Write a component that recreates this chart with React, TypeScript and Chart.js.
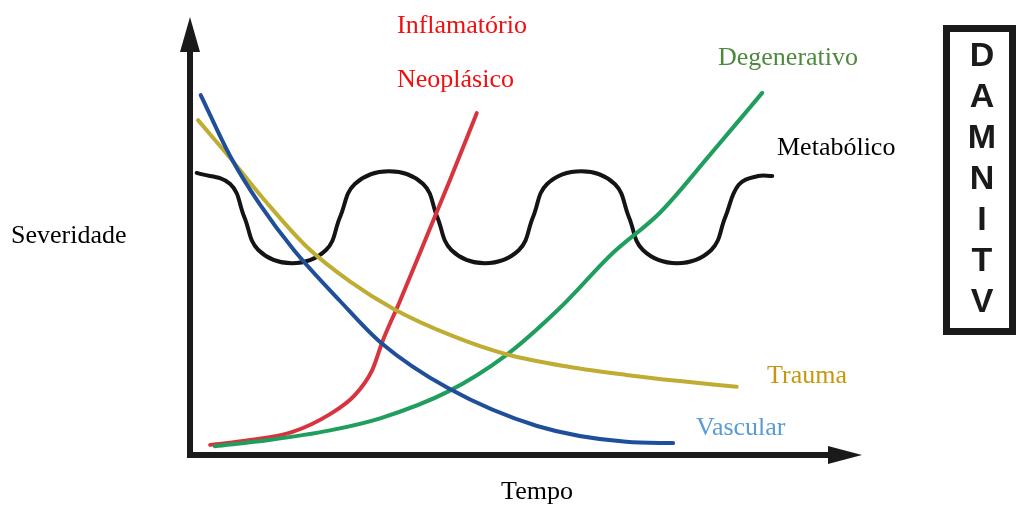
import React, { useEffect, useRef } from "react";
import { Chart, registerables } from "chart.js";

Chart.register(...registerables);

// Time (0–100) and severity (0–100) readings for each aetiology curve
const vascularTime = [1.6, 6.0, 10.4, 15.5, 22.4, 28.5, 38.5, 51.8, 65.1, 72.1];
const vascularSeverity = [81.8, 67.9, 57.0, 46.6, 35.0, 25.5, 15.2, 6.6, 3.0, 2.7];

const traumaTime = [1.2, 6.0, 11.2, 17.5, 23.9, 30.4, 38.8, 47.2, 56.7, 65.1, 73.1, 81.6];
const traumaSeverity = [76.1, 67.5, 57.8, 47.2, 39.4, 33.2, 27.3, 22.9, 20.0, 18.2, 16.8, 15.5];

const neoplasicoTime = [3.0, 9.0, 15.2, 20.9, 24.6, 27.2, 28.8, 31.2, 34.5, 38.8, 42.8];
const neoplasicoSeverity = [2.3, 3.4, 5.2, 9.3, 13.6, 19.3, 26.1, 34.5, 46.6, 62.5, 77.7];

const degenerativoTime = [3.7, 11.8, 20.9, 28.5, 38.5, 47.2, 55.2, 63.1, 70.1, 77.6, 85.4];
const degenerativoSeverity = [2.0, 3.4, 5.6, 8.4, 14.4, 22.7, 33.4, 45.9, 55.0, 68.2, 82.3];

const metabolicoTime = [
  1.0, 6.0, 8.1,
  10.2, 15.2, 20.3, 22.4,
  24.6, 29.7, 34.8, 36.9,
  39.0, 44.0, 49.1, 51.2,
  53.3, 58.4, 63.4, 65.5,
  67.6, 72.7, 77.8, 79.9,
  81.9, 84.8, 86.9,
];
const metabolicoSeverity = [
  64.1, 61.6, 54.1,
  46.6, 43.6, 46.6, 54.1,
  61.6, 64.5, 61.6, 54.1,
  46.6, 43.6, 46.6, 54.1,
  61.6, 64.5, 61.6, 54.1,
  46.6, 43.6, 46.6, 54.1,
  61.4, 63.4, 63.4,
];

const damnitvLetters = ["D", "A", "M", "N", "I", "T", "V"];

const toPoints = (xs: number[], ys: number[]) => xs.map((x, i) => ({ x, y: ys[i] }));

const SERIF = '"Liberation Serif", "Times New Roman", serif';

const decorPlugin = {
  id: "decor",
  afterDatasetsDraw(chart: any) {
    const ctx = chart.ctx as CanvasRenderingContext2D;
    const xs = chart.scales.x;
    const ys = chart.scales.y;
    const ox = xs.getPixelForValue(0);
    const oy = ys.getPixelForValue(0);
    const xEnd = xs.getPixelForValue(100) + 2;
    const yEnd = ys.getPixelForValue(100) + 2;
    ctx.save();
    ctx.fillStyle = "#1a1a1a";
    ctx.strokeStyle = "#1a1a1a";
    ctx.lineWidth = 6;
    ctx.lineCap = "butt";
    // y axis
    ctx.beginPath();
    ctx.moveTo(ox, oy + 3);
    ctx.lineTo(ox, yEnd + 30);
    ctx.stroke();
    ctx.beginPath();
    ctx.moveTo(ox, yEnd);
    ctx.lineTo(ox - 10, yEnd + 35);
    ctx.lineTo(ox + 10, yEnd + 35);
    ctx.closePath();
    ctx.fill();
    // x axis
    ctx.beginPath();
    ctx.moveTo(ox - 3, oy);
    ctx.lineTo(xEnd - 30, oy);
    ctx.stroke();
    ctx.beginPath();
    ctx.moveTo(xEnd, oy);
    ctx.lineTo(xEnd - 34, oy - 9);
    ctx.lineTo(xEnd - 34, oy + 9);
    ctx.closePath();
    ctx.fill();

    // labels
    ctx.font = `26px ${SERIF}`;
    ctx.textBaseline = "alphabetic";
    ctx.textAlign = "left";
    const label = (t: string, x: number, y: number, c: string) => {
      ctx.fillStyle = c;
      ctx.fillText(t, x, y);
    };
    label("Inflamatório", 397, 33, "#f01010");
    label("Neoplásico", 397, 87, "#f01010");
    label("Degenerativo", 718, 65, "#4e8a3e");
    label("Metabólico", 777, 155, "#000000");
    label("Severidade", 11, 243, "#000000");
    label("Trauma", 767, 383, "#c8960c");
    label("Vascular", 696, 435, "#5b9bd5");
    ctx.textAlign = "center";
    label("Tempo", 537, 499, "#000000");

    // DAMNITV box
    ctx.strokeStyle = "#1a1a1a";
    ctx.lineWidth = 7;
    ctx.strokeRect(946.5, 28.5, 66, 303);
    ctx.fillStyle = "#1a1a1a";
    ctx.font = `bold 34px "Liberation Sans", Arial, sans-serif`;
    ctx.textAlign = "center";
    ctx.textBaseline = "middle";
    damnitvLetters.forEach((l, i) => {
      ctx.fillText(l, 982, 57 + i * 41);
    });
    ctx.restore();
  },
};

export default function App() {
  const ref = useRef<HTMLCanvasElement>(null);
  useEffect(() => {
    if (!ref.current) return;
    const mk = (label: string, xs: number[], ys: number[], color: string, wave = false) => ({
      label,
      data: toPoints(xs, ys),
      borderColor: color,
      backgroundColor: color,
      borderWidth: 4,
      pointRadius: 0,
      ...(wave ? { tension: 0.4 } : { cubicInterpolationMode: "monotone" as const }),
      fill: false,
      clip: false as any,
      borderCapStyle: "round" as const,
    });
    const chart = new Chart(ref.current, {
      type: "line",
      data: {
        datasets: [
          mk("Vascular", vascularTime, vascularSeverity, "#1f4f9b"),
          mk("Trauma", traumaTime, traumaSeverity, "#bead32"),
          mk("Degenerativo", degenerativoTime, degenerativoSeverity, "#1f9e5e"),
          mk("Neoplásico", neoplasicoTime, neoplasicoSeverity, "#d8343f"),
          mk("Metabólico", metabolicoTime, metabolicoSeverity, "#141414", true),
        ],
      },
      options: {
        animation: false,
        responsive: false,
        layout: { padding: { left: 190, right: 156, top: 15, bottom: 52 } },
        scales: {
          x: { type: "linear", min: 0, max: 100, display: false },
          y: { type: "linear", min: 0, max: 100, display: false },
        },
        plugins: {
          legend: { display: false },
          tooltip: { enabled: false },
        },
      },
      plugins: [decorPlugin],
    });
    return () => chart.destroy();
  }, []);
  return (
    <div style={{ position: "fixed", left: 0, top: 0, width: 1016, height: 507, background: "#fff" }}>
      <canvas ref={ref} width={1016} height={507} />
    </div>
  );
}
